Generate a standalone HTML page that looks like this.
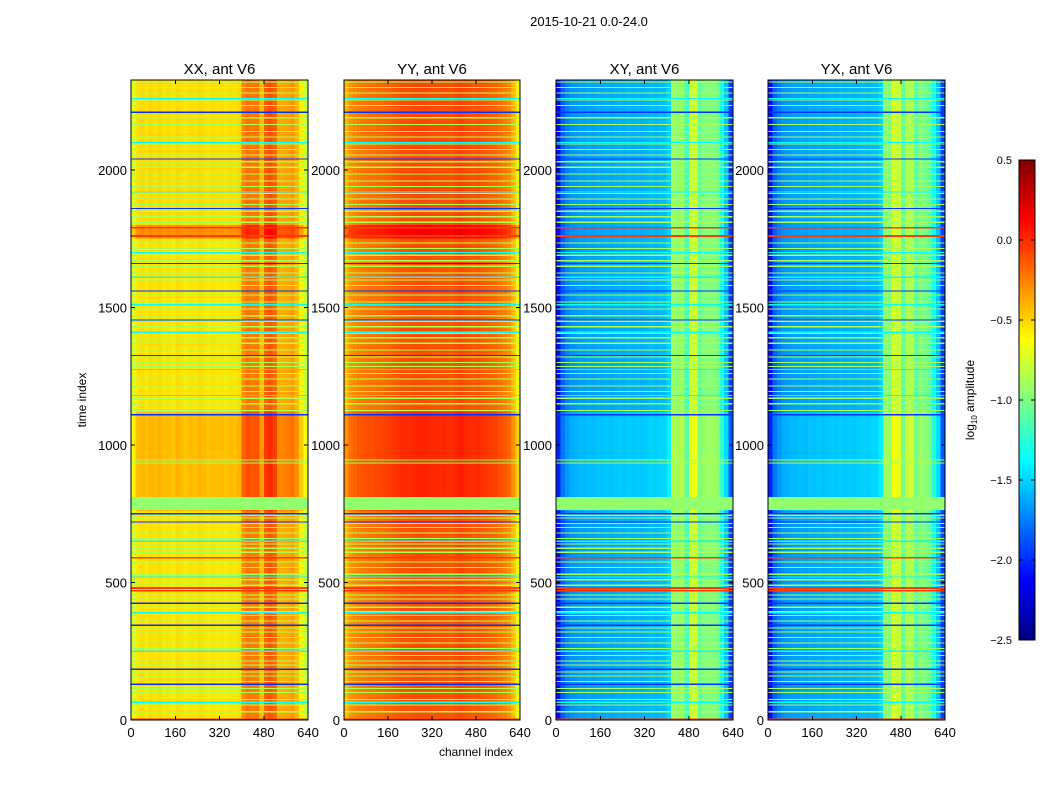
<!DOCTYPE html>
<html><head><meta charset="utf-8">
<style>
body{margin:0;background:#fff;}
#wrap{position:relative;width:1050px;height:800px;overflow:hidden;font-family:"Liberation Sans",sans-serif;}
svg{position:absolute;left:0;top:0;}
</style></head>
<body>
<div id="wrap">
<svg id="ov" width="1050" height="800" shape-rendering="crispEdges"></svg>
</div>
<script>
// ---- data ----
const panelTitles = ["XX, ant V6","YY, ant V6","XY, ant V6","YX, ant V6"];
const xTicks = [0,160,320,480,640];
const yTicks = [0,500,1000,1500,2000];
const cbTicks = [0.5,0.0,-0.5,-1.0,-1.5,-2.0,-2.5];
// column profiles: 40 bins of 16 channels (log10 amplitude)
const colXX = [-0.72,-0.56,-0.53,-0.56,-0.52,-0.55,-0.52,-0.56,-0.54,-0.57,-0.52,-0.55,-0.57,-0.54,-0.56,-0.52,-0.55,-0.57,-0.54,-0.56,-0.55,-0.57,-0.54,-0.56,-0.52,-0.28,-0.22,-0.25,-0.24,-0.45,-0.16,-0.12,-0.18,-0.4,-0.38,-0.36,-0.33,-0.42,-0.6,-0.78];
const colYY = [-0.42,-0.32,-0.28,-0.25,-0.24,-0.22,-0.22,-0.2,-0.2,-0.18,-0.17,-0.15,-0.13,-0.12,-0.12,-0.11,-0.1,-0.1,-0.1,-0.11,-0.12,-0.12,-0.11,-0.12,-0.13,-0.1,-0.08,-0.1,-0.12,-0.14,-0.12,-0.14,-0.15,-0.17,-0.18,-0.22,-0.25,-0.3,-0.42,-0.6];
const colXY = [-2.1,-1.85,-1.75,-1.7,-1.68,-1.66,-1.66,-1.64,-1.66,-1.63,-1.64,-1.62,-1.64,-1.62,-1.61,-1.62,-1.6,-1.62,-1.6,-1.62,-1.6,-1.58,-1.6,-1.58,-1.58,-1.5,-0.92,-0.97,-0.92,-1.2,-0.78,-0.74,-1.1,-1.0,-1.0,-0.97,-1.05,-1.3,-1.55,-1.95];
const colYX = [-2.1,-1.85,-1.75,-1.7,-1.68,-1.66,-1.66,-1.64,-1.66,-1.63,-1.64,-1.62,-1.64,-1.62,-1.61,-1.62,-1.6,-1.62,-1.6,-1.62,-1.6,-1.58,-1.6,-1.58,-1.58,-1.5,-0.97,-1.0,-0.74,-0.78,-1.1,-0.88,-0.83,-1.1,-1.0,-1.05,-1.1,-1.35,-1.55,-1.95];
// time-segment level offsets [t0,t1,offset]
const segParallel = [[0,760,0],[760,1120,0.12],[1120,1750,0],[1750,1800,0.25],[1800,2327,0.02]];
const segCross = [[0,760,0],[760,1120,0.08],[1120,2327,0]];
// flagged rows
const greenStripes = [30,55,75,100,115,140,160,175,200,215,235,260,280,300,320,335,360,380,395,410,440,455,490,510,530,555,575,610,625,640,660,680,700,715,735,745,935,945,1125,1150,1170,1195,1215,1240,1260,1285,1300,1320,1345,1370,1390,1405,1430,1450,1470,1495,1520,1545,1560,1580,1600,1625,1650,1670,1690,1715,1735,1810,1830,1850,1875,1895,1915,1940,1960,1985,2010,2030,2055,2075,2095,2120,2140,2165,2190,2210,2235,2255,2280,2300,2320];
const cyanStripes = [65,250,390,520,650,1180,1275,1410,1510,1610,1700,1920,2100,2260];
const blueStripes = [130,185,345,425,720,750,1110,1325,1455,1560,1660,1860,2040,2210];
const redStripes = [3,470,480,590,1760,1790];
const flagBand = [764,811];
const flagValue = -0.95, greenValue = -0.88, cyanValue = -1.35, blueValue = -1.97, redValue = -0.05;
const vmin=-2.5, vmax=0.5, tMax=2327, chMax=640;

// ---- geometry ----
const panelX=[131,344,556,768], panelW=[177,176,177,177], plotTop=80, plotBottom=720;
function yScale(t){return plotBottom-(t/tMax)*(plotBottom-plotTop);}
function xScale(i,c){return panelX[i]+(c/chMax)*panelW[i];}
function jet(v){
  let x=(v-vmin)/(vmax-vmin); x=Math.max(0,Math.min(1,x));
  const r=Math.max(0,Math.min(1,1.5-Math.abs(4*x-3)));
  const g=Math.max(0,Math.min(1,1.5-Math.abs(4*x-2)));
  const b=Math.max(0,Math.min(1,1.5-Math.abs(4*x-1)));
  return 'rgb('+Math.round(r*255)+','+Math.round(g*255)+','+Math.round(b*255)+')';
}
const NS='http://www.w3.org/2000/svg';const ov=document.getElementById('ov');
function el(tag,attrs,text,parent){const e=document.createElementNS(NS,tag);for(const k in attrs)e.setAttribute(k,attrs[k]);if(text!==undefined&&text!==null)e.textContent=text;(parent||ov).appendChild(e);return e;}
const FF='Liberation Sans, sans-serif';

const cols=[colXX,colYY,colXY,colYX];
cols.forEach((col,i)=>{
  const g=el('g',{});
  
  
  const segs=i<2?segParallel:segCross;
  segs.forEach(s=>{
    const y0=yScale(s[1]),y1=yScale(s[0]);
    col.forEach((v,b)=>{
      const x0=xScale(i,b*16),x1=xScale(i,(b+1)*16);
      const r=el('rect',{x:x0,y:y0,width:x1-x0+0.5,height:y1-y0,fill:jet(v+s[2])},null,g);
      
      
    });
  });
  function stripe(t0,t1,v,name){
    const y0=yScale(t1),y1=yScale(t0);
    const r=el('rect',{x:panelX[i],y:y0,width:panelW[i],height:Math.max(1.2,y1-y0),fill:jet(v)},null,g);
    
    
  }
  greenStripes.forEach(t=>stripe(t-2,t+2,greenValue,'flag-row'));
  cyanStripes.forEach(t=>stripe(t-2,t+2,cyanValue,'mid-row'));
  blueStripes.forEach(t=>stripe(t-2,t+2,blueValue,'low-row'));
  redStripes.forEach(t=>stripe(t-3,t+3,redValue,'high-row'));
  stripe(flagBand[0],flagBand[1],flagValue,'flag-band');
});
// colorbar
(function(){
  const g=el('g',{});
  
  
  for(let y=0;y<480;y+=2){const v=vmax-((y+1)/480)*(vmax-vmin);el('rect',{x:1019,y:160+y,width:16,height:2.3,fill:jet(v)},null,g);}
})();

const sup=el('text',{x:589,y:26,'font-size':13,'text-anchor':'middle','font-family':FF},'2015-10-21 0.0-24.0');


panelTitles.forEach((tt,i)=>{
  const x0=panelX[i],w=panelW[i];
  const fr=el('rect',{x:x0,y:plotTop,width:w,height:plotBottom-plotTop,fill:'none',stroke:'#000','stroke-width':1});
  
  
  const ti=el('text',{x:x0+w/2,y:74,'font-size':15,'text-anchor':'middle','font-family':FF},tt);
  
  
  xTicks.forEach(v=>{
    const x=xScale(i,v);
    el('line',{x1:x,y1:plotBottom,x2:x,y2:plotBottom-4,stroke:'#000'});
    el('line',{x1:x,y1:plotTop,x2:x,y2:plotTop+4,stroke:'#000'});
    const l=el('text',{x:x,y:plotBottom+17,'font-size':13,'text-anchor':'middle','font-family':FF},String(v));
    
    
  });
  yTicks.forEach(v=>{
    const y=yScale(v);
    el('line',{x1:x0,y1:y,x2:x0+4,y2:y,stroke:'#000'});
    el('line',{x1:x0+w,y1:y,x2:x0+w-4,y2:y,stroke:'#000'});
    const l=el('text',{x:x0-4,y:y+5,'font-size':13,'text-anchor':'end','font-family':FF},String(v));
    
    
  });
});
const yt=el('text',{x:0,y:0,'font-size':12,'text-anchor':'middle',transform:'translate(86,400) rotate(-90)','font-family':FF},'time index');


const xt=el('text',{x:476,y:756,'font-size':12,'text-anchor':'middle','font-family':FF},'channel index');


const cbf=el('rect',{x:1019,y:160,width:16,height:480,fill:'none',stroke:'#000'});


cbTicks.forEach(v=>{
  const y=160+(vmax-v)/(vmax-vmin)*480;
  el('line',{x1:1019,y1:y,x2:1023,y2:y,stroke:'#000'});
  el('line',{x1:1035,y1:y,x2:1031,y2:y,stroke:'#000'});
  const l=el('text',{x:1012,y:y+4,'font-size':11,'text-anchor':'end','font-family':FF},(v<0?'\u2212':'')+Math.abs(v).toFixed(1));
  
  
});
const cbl=el('text',{x:0,y:0,'font-size':12,'text-anchor':'middle',transform:'translate(974,400) rotate(-90)','font-family':FF},'log');


el('tspan',{'font-size':8,dy:3},'10',cbl);
el('tspan',{dy:-3},' amplitude',cbl);
</script>
</body></html>
